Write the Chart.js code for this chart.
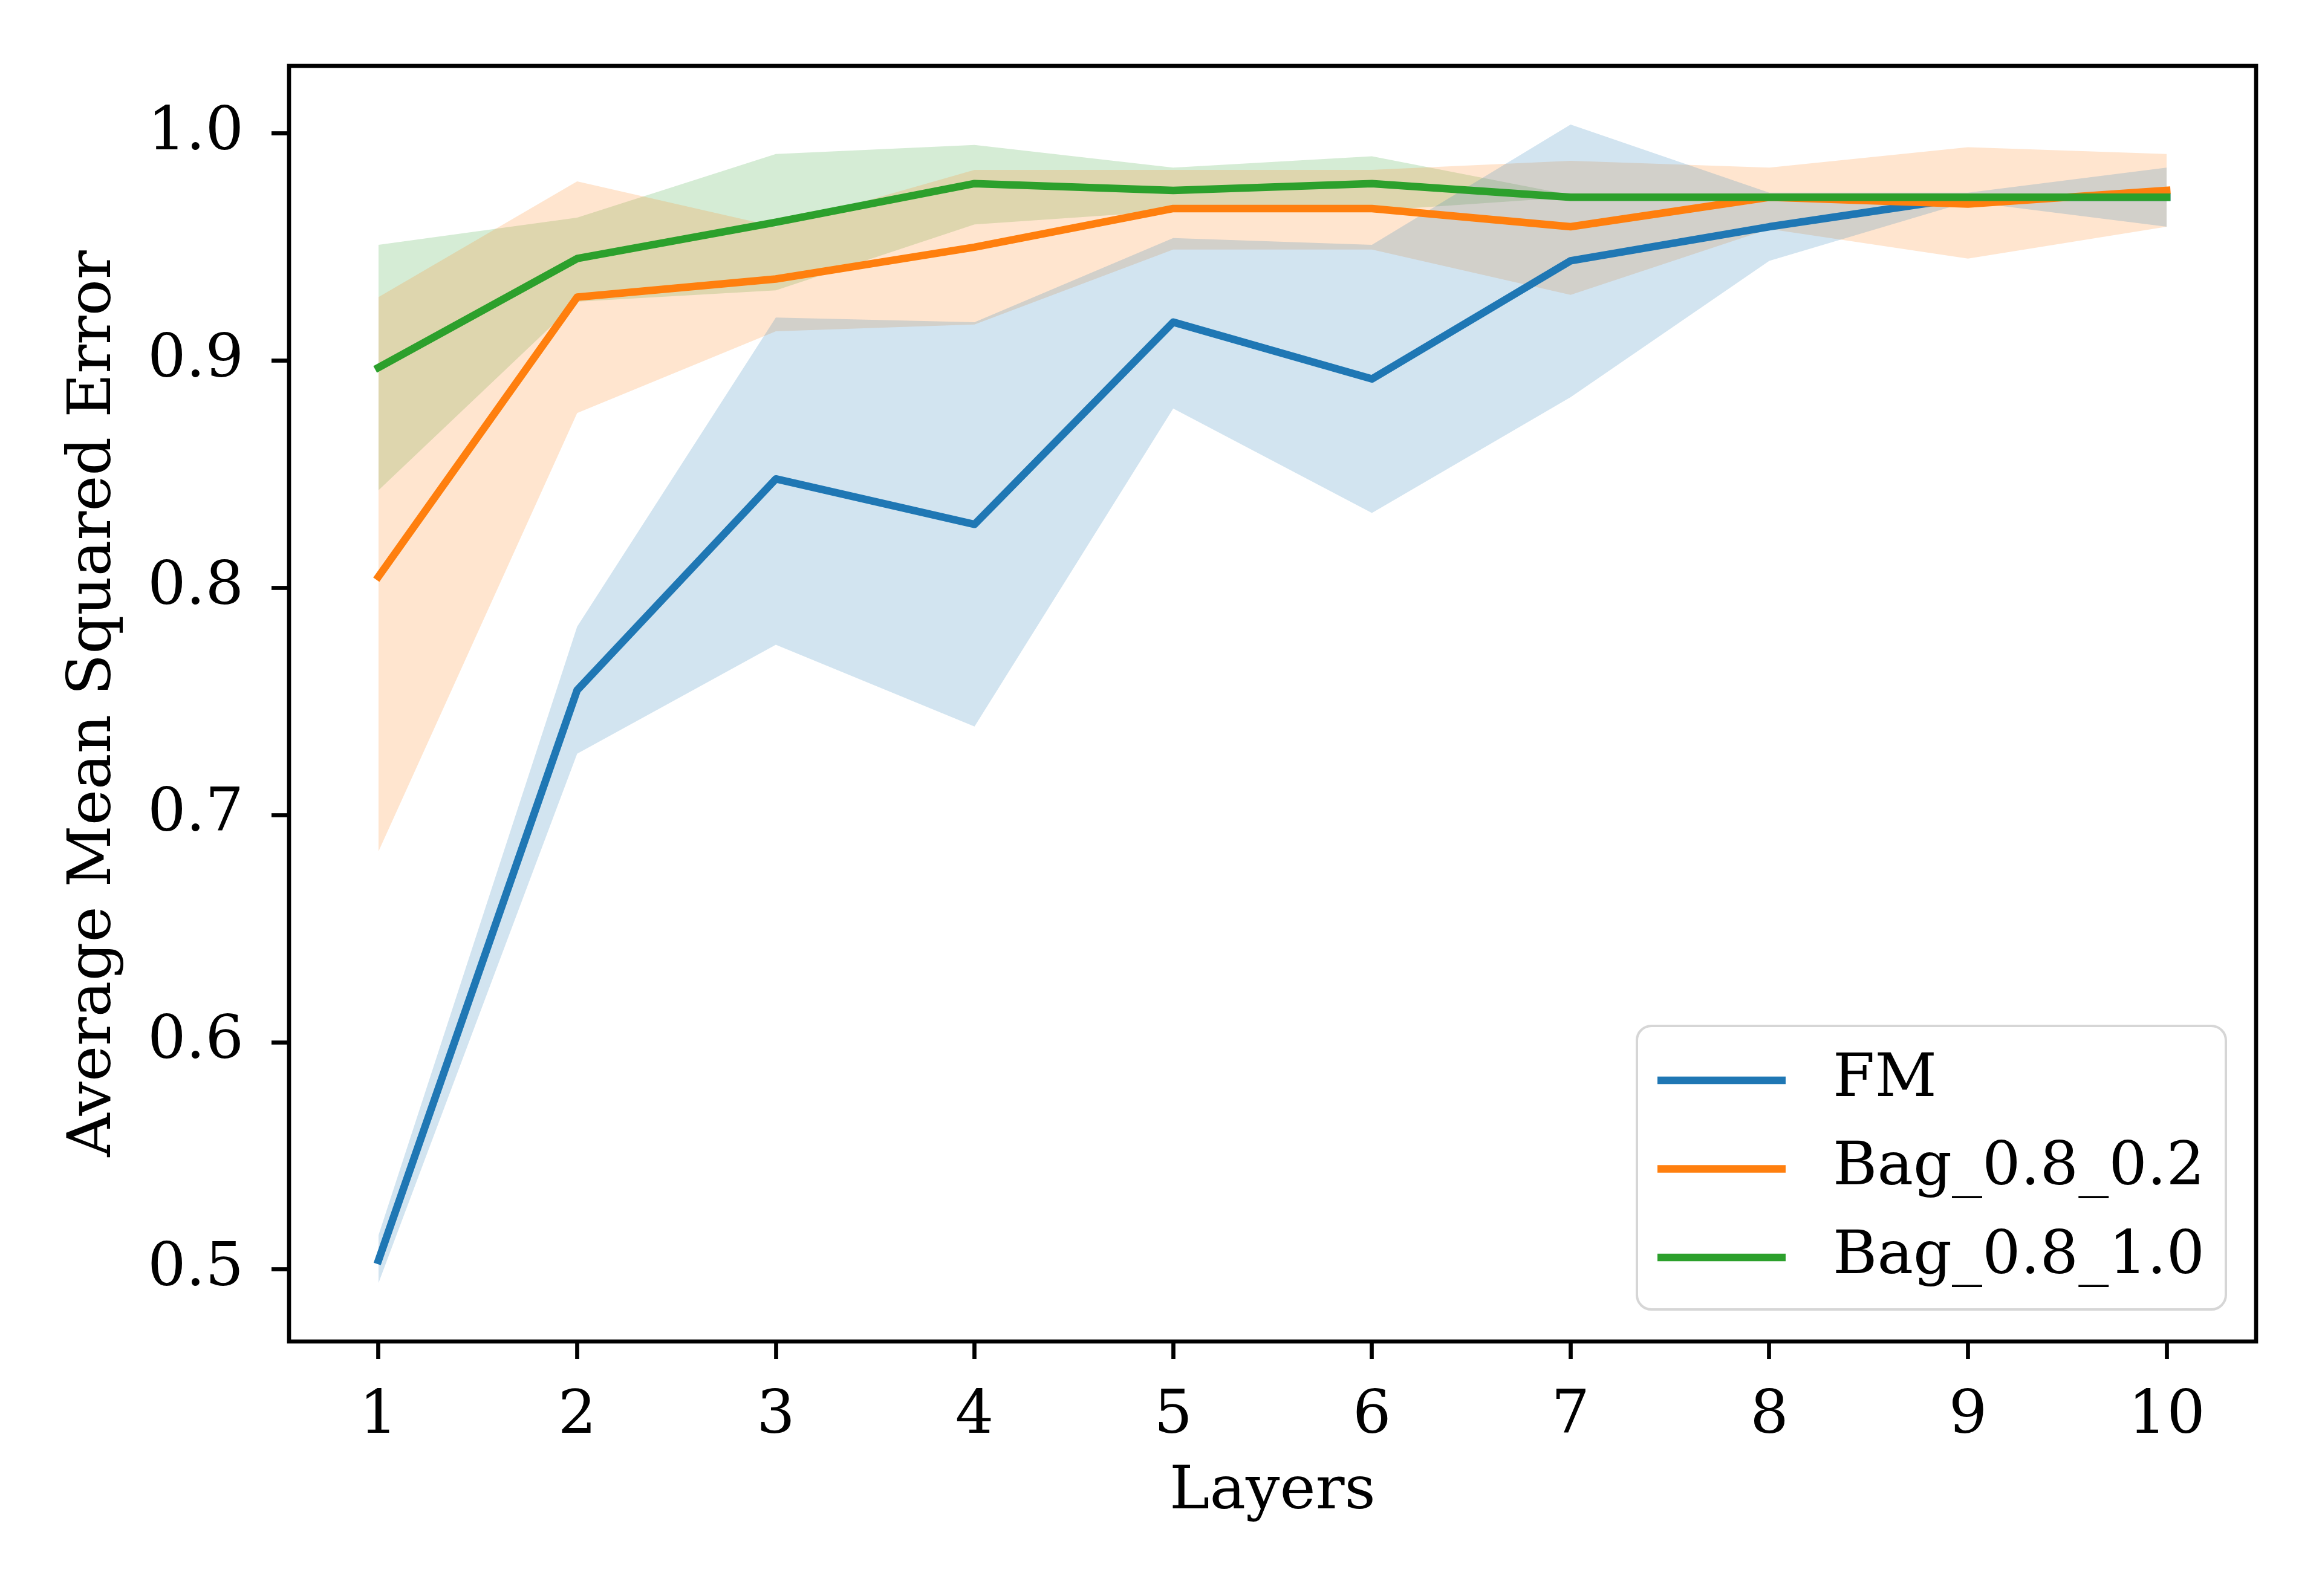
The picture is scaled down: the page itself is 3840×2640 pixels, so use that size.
<!DOCTYPE html>
<html>
<head>
<meta charset="utf-8">
<title>Average Mean Squared Error by Layers</title>
<script src="https://cdn.jsdelivr.net/npm/chart.js@4.4.1/dist/chart.umd.min.js"></script>
<style>
  html, body { margin: 0; padding: 0; background: #fff; }
  #wrap { width: 3840px; height: 2640px; }
</style>
</head>
<body>
<div id="wrap"><canvas id="mseChart" width="3840" height="2640"></canvas></div>
<script>
// x axis : number of layers
const layers = [1, 2, 3, 4, 5, 6, 7, 8, 9, 10];
const yTicks = [0.5, 0.6, 0.7, 0.8, 0.9, 1.0];

// FM (mean line + shaded band)
const fmMean  = [0.504, 0.755, 0.848, 0.828, 0.917, 0.892, 0.944, 0.959, 0.972, 0.972];
const fmUpper = [0.515, 0.783, 0.919, 0.917, 0.954, 0.951, 1.004, 0.974, 0.974, 0.985];
const fmLower = [0.494, 0.727, 0.775, 0.739, 0.879, 0.833, 0.884, 0.944, 0.970, 0.959];

// Bag_0.8_0.2
const bag02Mean  = [0.805, 0.928, 0.936, 0.950, 0.967, 0.967, 0.959, 0.972, 0.969, 0.975];
const bag02Upper = [0.928, 0.979, 0.959, 0.984, 0.984, 0.984, 0.988, 0.985, 0.994, 0.991];
const bag02Lower = [0.684, 0.877, 0.913, 0.916, 0.949, 0.949, 0.929, 0.958, 0.945, 0.959];

// Bag_0.8_1.0
const bag10Mean  = [0.897, 0.945, 0.961, 0.978, 0.975, 0.978, 0.972, 0.972, 0.972, 0.972];
const bag10Upper = [0.951, 0.963, 0.991, 0.995, 0.985, 0.990, 0.973, 0.972, 0.972, 0.972];
const bag10Lower = [0.843, 0.926, 0.931, 0.960, 0.966, 0.966, 0.972, 0.972, 0.972, 0.972];

const series = [
  { label: 'FM',          mean: fmMean,    upper: fmUpper,    lower: fmLower,    rgb: '31,119,180', order: 2 },
  { label: 'Bag_0.8_0.2', mean: bag02Mean, upper: bag02Upper, lower: bag02Lower, rgb: '255,127,14', order: 1 },
  { label: 'Bag_0.8_1.0', mean: bag10Mean, upper: bag10Upper, lower: bag10Lower, rgb: '44,160,44',  order: 0 }
];

const pts = (arr) => layers.map((l, i) => ({ x: l, y: arr[i] }));

Chart.defaults.font.family = "'DejaVu Serif', serif";
Chart.defaults.font.size = 100;
Chart.defaults.color = '#000';

const datasets = [];
// the three mean lines first (used for the legend)
series.forEach(s => {
  datasets.push({
    label: s.label,
    data: pts(s.mean),
    borderColor: 'rgb(' + s.rgb + ')',
    borderWidth: 12.5,
    borderJoinStyle: 'round',
    borderCapStyle: 'square',
    pointRadius: 0,
    tension: 0,
    fill: false,
    order: s.order
  });
});
// then the bands: upper filled down to the lower one just after it
series.forEach(s => {
  datasets.push({
    label: s.label + ' upper',
    band: true,
    data: pts(s.upper),
    borderColor: 'rgba(0,0,0,0)',
    borderWidth: 0,
    pointRadius: 0,
    tension: 0,
    backgroundColor: 'rgba(' + s.rgb + ',0.2)',
    fill: '+1',
    order: 5 - s.order
  });
  datasets.push({
    label: s.label + ' lower',
    band: true,
    data: pts(s.lower),
    borderColor: 'rgba(0,0,0,0)',
    borderWidth: 0,
    pointRadius: 0,
    tension: 0,
    fill: false,
    order: 5 - s.order
  });
});

// axes frame (all four spines)
const frame = {
  id: 'frame',
  afterDatasetsDraw(chart) {
    const { ctx, chartArea: a } = chart;
    ctx.save();
    ctx.strokeStyle = '#000';
    ctx.lineWidth = 6.7;
    ctx.strokeRect(a.left, a.top, a.right - a.left, a.bottom - a.top);
    ctx.restore();
  }
};

// legend in the lower right corner of the axes
const legendInside = {
  id: 'legendInside',
  afterDraw(chart) {
    const { ctx, chartArea: a } = chart;
    const right = a.right - 50, bottom = a.bottom - 53;
    const w = 974, h = 469, r = 24;
    const left = right - w, top = bottom - h;
    ctx.save();
    ctx.beginPath();
    ctx.roundRect(left, top, w, h, r);
    ctx.fillStyle = 'rgba(255,255,255,0.8)';
    ctx.fill();
    ctx.strokeStyle = 'rgba(204,204,204,0.8)';
    ctx.lineWidth = 4;
    ctx.stroke();

    const rows = chart.data.datasets.filter(d => !d.band);
    ctx.font = "100px 'DejaVu Serif', serif";
    ctx.textBaseline = 'middle';
    ctx.textAlign = 'left';
    rows.forEach((d, i) => {
      const y = top + 90 + i * 146.5;
      ctx.strokeStyle = d.borderColor;
      ctx.lineWidth = 12.5;
      ctx.lineCap = 'butt';
      ctx.beginPath();
      ctx.moveTo(left + 34, y);
      ctx.lineTo(left + 246, y);
      ctx.stroke();
      ctx.fillStyle = '#000';
      ctx.fillText(d.label, left + 324, y);
    });
    ctx.restore();
  }
};

new Chart(document.getElementById('mseChart'), {
  type: 'line',
  data: { datasets: datasets },
  options: {
    responsive: false,
    devicePixelRatio: 1,
    animation: false,
    events: [],
    layout: { padding: { left: 0, top: 109, right: 109, bottom: 0 } },
    plugins: {
      legend: { display: false },
      tooltip: { enabled: false },
      filler: { drawTime: 'beforeDatasetsDraw', propagate: false }
    },
    scales: {
      x: {
        type: 'linear',
        min: 0.55,
        max: 10.45,
        afterBuildTicks: (scale) => { scale.ticks = layers.map(v => ({ value: v })); },
        afterFit: (scale) => { scale.height = 421; },
        ticks: {
          autoSkip: false,
          padding: 36,
          font: { size: 100 },
          callback: (v) => String(v)
        },
        grid: {
          drawOnChartArea: false,
          drawTicks: true,
          tickLength: 29,
          tickWidth: 6.7,
          tickColor: '#000'
        },
        border: { display: false },
        title: {
          display: true,
          text: 'Layers',
          font: { size: 100 },
          padding: { top: 0, bottom: 111 }
        }
      },
      y: {
        type: 'linear',
        min: 0.4683,
        max: 1.0298,
        afterBuildTicks: (scale) => { scale.ticks = yTicks.map(v => ({ value: v })); },
        afterFit: (scale) => { scale.width = 478; },
        ticks: {
          padding: 46,
          font: { size: 100 },
          callback: (v) => Number(v).toFixed(1)
        },
        grid: {
          drawOnChartArea: false,
          drawTicks: true,
          tickLength: 29,
          tickWidth: 6.7,
          tickColor: '#000'
        },
        border: { display: false },
        title: {
          display: true,
          text: 'Average Mean Squared Error',
          font: { size: 100 },
          padding: { top: 96, bottom: 0 }
        }
      }
    }
  },
  plugins: [frame, legendInside]
});
</script>
</body>
</html>
